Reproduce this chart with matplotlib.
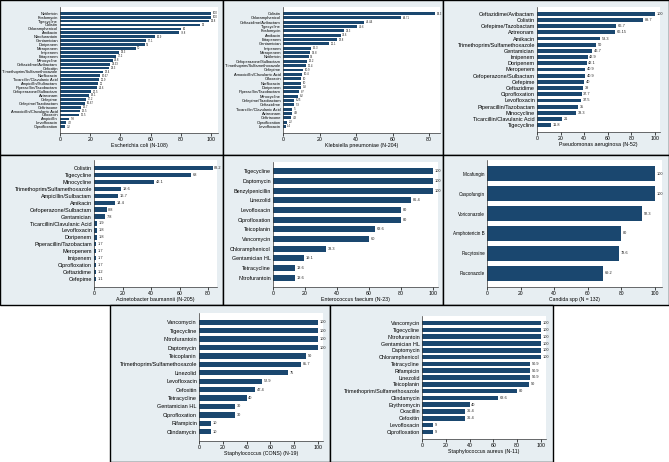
import numpy as np
import matplotlib.pyplot as plt
from matplotlib.patches import Rectangle

plt.rcParams['font.family'] = ['Liberation Sans', 'DejaVu Sans']

# ---- data (susceptibility %, top bar first) ----
ecoli_drugs = ['Netilmicin', 'Fosfomycin', 'Tigecycline', 'Colistin', 'Chloramphenicol',
               'Amikacin', 'Nitrofurantoin', 'Gentamician', 'Doripenem', 'Meropenem',
               'Imipenem', 'Ertapenem', 'Minocycline', 'Ceftazidime/Avibactam', 'Cefoxitin',
               'Trimethoprim/Sulfamethoxazole', 'Norfloxacin', 'Ticarcillin/Clavulanic Acid',
               'Ampicillin/Sulbactam', 'Piperacillin/Tazobactam', 'Cefoperazone/Sulbactam',
               'Aztreonam', 'Cefepime', 'Cefepime/Tazobactam', 'Ceftriaxone',
               'Amoxicillin/Clavulanic Acid', 'Ofloxacin', 'Ampicillin', 'Levofloxacin',
               'Ciprofloxation']
ecoli_vals = [100, 100, 98.8, 93, 80, 78.8, 62.9, 57.1, 56, 50, 39.3, 37.2, 34.8, 33.33, 32.3,
              28.4, 26.67, 25.9, 25, 24.6, 20.5, 19.1, 17.2, 16.67, 13.7, 13.5, 12.5, 5.8, 4.2, 3.2]

kpn_drugs = ['Colistin', 'Chloramphenicol', 'Ceftazidime/Avibactam', 'Tigecycline', 'Fosfomycin',
             'Amikacin', 'Ertapenem', 'Gentamician', 'Imipenem', 'Meropenem', 'Netilmicin',
             'Cefoperazone/Sulbactam', 'Trimethoprim/Sulfamethoxazole', 'Cefepime',
             'Amoxicillin/Clavulanic Acid', 'Ofloxacin', 'Norfloxacin', 'Doripenem',
             'Piperacillin/Tazobactam', 'Minocycline', 'Cefepime/Tazobactam', 'Ceftazidime',
             'Ticarcillin/Clavulanic Acid', 'Aztreonam', 'Ceftriaxone', 'Ciprofloxation',
             'Levofloxacin']
kpn_vals = [83.3, 64.71, 44.44, 40.6, 33.3, 31.6, 29.8, 25.1, 15.3, 14.8, 14, 13.2, 12.4, 10.9,
            10.4, 10, 10, 9.8, 8.7, 8.2, 6.25, 5.9, 5, 4.9, 4.3, 2.2, 1.4]

pae_drugs = ['Ceftazidime/Avibactam', 'Colistin', 'Cefepime/Tazobactam', 'Aztreonam', 'Amikacin',
             'Trimethoprim/Sulfamethoxazole', 'Gentamician', 'Imipenem', 'Doripenem',
             'Meropenem', 'Cefoperazone/Sulbactam', 'Cefepime', 'Ceftazidime',
             'Ciprofloxation', 'Levofloxacin', 'Piperacillin/Tazobactam', 'Minocycline',
             'Ticarcillin/Clavulanic Acid', 'Tigecycline']
pae_vals = [100, 89.7, 66.7, 66.15, 53.3, 50, 46.7, 42.9, 42.1, 40.9, 40.9, 40, 39, 37.7, 37.5,
            35, 33.3, 21, 11.8]

aba_drugs = ['Colistin', 'Tigecycline', 'Minocycline', 'Trimethoprim/Sulfamethoxazole',
             'Ampicillin/Sulbactam', 'Amikacin', 'Cefoperazone/Sulbactam', 'Gentamician',
             'Ticarcillin/Clavulanic Acid', 'Levofloxacin', 'Doripenem',
             'Piperacillin/Tazobactam', 'Meropenem', 'Imipenem', 'Ciprofloxation',
             'Ceftazidime', 'Cefepime']
aba_vals = [83.2, 68, 42.1, 18.6, 16.7, 14.4, 8.8, 7.8, 1.9, 1.8, 1.8, 1.7, 1.7, 1.7, 1.7, 1.2, 1.1]

efm_drugs = ['Tigecycline', 'Daptomycin', 'Benzylpenicillin', 'Linezolid', 'Levofloxacin',
             'Ciprofloxation', 'Teicoplanin', 'Vancomycin', 'Chloramphenicol',
             'Gentamician HL', 'Tetracycline', 'Nitrofurantoin']
efm_vals = [100, 100, 100, 86.4, 80, 80, 63.6, 60, 33.3, 19.1, 13.6, 13.6]

cand_drugs = ['Micafungin', 'Caspofungin', 'Voriconazole', 'Amphotericin B', 'Flucytosine',
              'Fluconazole']
cand_vals = [100, 100, 92.3, 80, 78.6, 69.2]

cons_drugs = ['Vancomycin', 'Tigecycline', 'Nitrofurantoin', 'Daptomycin', 'Teicoplanin',
              'Trimethoprim/Sulfamethoxazole', 'Linezolid', 'Levofloxacin', 'Cefoxitin',
              'Tetracycline', 'Gentamician HL', 'Ciprofloxation', 'Rifampicin', 'Clindamycin']
cons_vals = [100, 100, 100, 100, 90, 85.7, 75, 52.9, 47.4, 40, 30, 30, 10, 10]

sau_drugs = ['Vancomycin', 'Tigecycline', 'Nitrofurantoin', 'Gentamician HL', 'Daptomycin',
             'Chloramphenicol', 'Tetracycline', 'Rifampicin', 'Linezolid', 'Teicoplanin',
             'Trimethoprim/Sulfamethoxazole', 'Clindamycin', 'Erythromycin', 'Oxacillin',
             'Cefoxitin', 'Levofloxacin', 'Ciprofloxation']
sau_vals = [100, 100, 100, 100, 100, 100, 90.9, 90.9, 90.9, 90, 80, 63.6, 40, 36.4, 36.4, 9, 9]

W, H = 669, 462
fig = plt.figure(figsize=(W / 100, H / 100), dpi=100)
fig.patch.set_facecolor('white')

BAR = '#1a476f'
PANEL_BG = '#e7eef2'


def draw(box, plot, drugs, vals, title, xmax, ticks, pad, bh, fs_cat, fs_val, fs_tick):
    x0, y0, x1, y1 = box
    fig.patches.append(Rectangle((x0 / W, 1 - y1 / H), (x1 - x0) / W, (y1 - y0) / H,
                                 transform=fig.transFigure, facecolor=PANEL_BG,
                                 edgecolor='black', lw=1.0, zorder=-5))
    a0, b0, a1, b1 = plot
    ax = fig.add_axes([a0 / W, 1 - b1 / H, (a1 - a0) / W, (b1 - b0) / H])
    ax.set_facecolor('white')
    y = np.arange(len(drugs))
    ax.barh(y, vals, height=bh, color=BAR, zorder=2)
    for yi, v in zip(y, vals):
        ax.annotate(f'{v:g}', (v, yi), xytext=(1.2, 0), textcoords='offset points',
                    va='center', ha='left', fontsize=fs_val, color='#222222')
    ax.set_yticks(y, drugs, fontsize=fs_cat)
    ax.set_ylim(len(drugs) - 1 + pad, -pad)
    ax.set_xlim(0, xmax)
    ax.set_xticks(ticks)
    ax.tick_params(axis='x', labelsize=fs_tick, length=2, width=0.5, pad=1)
    ax.tick_params(axis='y', length=0, pad=1.5)
    ax.set_xlabel(title, fontsize=fs_tick, labelpad=0.5)
    for s in ['top', 'right']:
        ax.spines[s].set_visible(False)
    for s in ['left', 'bottom']:
        ax.spines[s].set_linewidth(0.5)
        ax.spines[s].set_color('#333333')
    return ax


t100 = [0, 20, 40, 60, 80, 100]
t80 = [0, 20, 40, 60, 80]

draw((0, 0, 223, 155), (60, 7, 218, 133), ecoli_drugs, ecoli_vals,
     'Escherichia coli (N-108)', 104.6, t100, 1.6, 0.72, 2.9, 2.0, 3.8)
draw((223, 0, 443, 155), (283, 7, 440, 133), kpn_drugs, kpn_vals,
     'Klebsiella pneumoniae (N-204)', 86, t80, 1.5, 0.68, 2.9, 2.0, 3.8)
draw((443, 0, 669, 155), (537, 7, 660, 132), pae_drugs, pae_vals,
     'Pseudomonas aeruginosa (N-52)', 104.2, t100, 1.1, 0.62, 4.0, 2.8, 3.8)
draw((0, 155, 223, 305), (94, 160, 217, 287), aba_drugs, aba_vals,
     'Acinetobacter baumannii (N-205)', 86.3, t80, 1.15, 0.62, 4.0, 2.8, 3.8)
draw((223, 155, 443, 305), (273, 162, 438, 287), efm_drugs, efm_vals,
     'Enterococcus faecium (N-23)', 103.1, t100, 0.95, 0.62, 3.9, 2.8, 3.8)
draw((443, 155, 669, 305), (487, 160, 662, 287), cand_drugs, cand_vals,
     'Candida spp (N = 132)', 104.2, t100, 0.7, 0.75, 3.3, 2.8, 3.6)
draw((110, 305, 330, 462), (199, 313, 323, 441), cons_drugs, cons_vals,
     'Staphylococcus (CONS) (N-19)', 104.2, t100, 1.1, 0.64, 4.0, 2.8, 3.8)
draw((330, 305, 553, 462), (422, 316, 546, 439), sau_drugs, sau_vals,
     'Staphylococcus aureus (N-11)', 104.2, t100, 1.05, 0.66, 3.9, 2.8, 3.8)

fig.savefig('out.png', dpi=100)
